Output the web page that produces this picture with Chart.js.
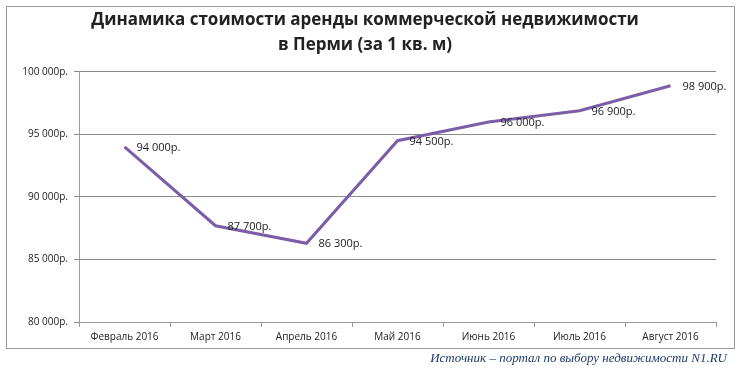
<!DOCTYPE html>
<html>
<head>
<meta charset="utf-8">
<script src="https://cdn.jsdelivr.net/npm/chart.js@4"></script>
<style>
  html, body { margin: 0; padding: 0; background: #fff; }
  #wrap { position: relative; width: 739px; height: 369px; }
  #frame { position: absolute; left: 6px; top: 6px; width: 727px; height: 341px; border: 1px solid #9a9a9a; }
  #chart { position: absolute; left: 0; top: 0; }
  #source { position: absolute; right: 12px; top: 350px; font: italic 13px "Liberation Serif", serif; color: #1f3a6a; }
</style>
</head>
<body>
<div id="wrap">
  <div id="frame"></div>
  <canvas id="chart" width="739" height="369"></canvas>
  <div id="source">Источник – портал по выбору недвижимости N1.RU</div>
</div>
<script>
const months = ['Февраль 2016', 'Март 2016', 'Апрель 2016', 'Май 2016', 'Июнь 2016', 'Июль 2016', 'Август 2016'];
const rent = [94000, 87700, 86300, 94500, 96000, 96900, 98900];
const titleLines = ['Динамика стоимости аренды коммерческой недвижимости', 'в Перми (за 1 кв. м)'];

function rub(v) {
  const s = String(v);
  return s.slice(0, s.length - 3) + ' ' + s.slice(-3) + 'р.';
}

// labels to the right of each point
const pointLabels = {
  id: 'pointLabels',
  afterDatasetsDraw(chart) {
    const ctx = chart.ctx;
    const meta = chart.getDatasetMeta(0);
    ctx.save();
    ctx.font = '11px "Open Sans"';
    ctx.fillStyle = '#222';
    ctx.textBaseline = 'middle';
    meta.data.forEach((pt, i) => {
      ctx.fillText(rub(rent[i]), pt.x + 12, pt.y + 1);
    });
    ctx.restore();
  }
};

const ctx = document.getElementById('chart');
new Chart(ctx, {
  type: 'line',
  data: {
    labels: months,
    datasets: [{
      data: rent,
      borderColor: '#7b5ea7',
      borderWidth: 3,
      pointRadius: 0,
      tension: 0,
      fill: false
    }]
  },
  options: {
    responsive: false,
    animation: false,
    layout: { padding: { left: 14, right: 23, top: 0, bottom: 22 } },
    plugins: {
      legend: { display: false },
      tooltip: { enabled: false },
      title: {
        display: true,
        text: titleLines,
        color: '#222',
        font: { family: 'Open Sans', size: 17, weight: 'bold', lineHeight: 1.47 },
        padding: { top: 8, bottom: 14 }
      }
    },
    scales: {
      x: {
        offset: true,
        grid: { display: true, offset: true, drawOnChartArea: false, drawTicks: true, tickLength: 5, color: '#9a9a9a' },
        border: { display: true, color: '#9a9a9a' },
        ticks: { color: '#222', font: { family: 'Open Sans', size: 10 }, maxRotation: 0, padding: 4 }
      },
      y: {
        min: 80000,
        max: 100000,
        afterFit(scale) { scale.width = 65; },
        grid: { color: '#8a8a8a', drawTicks: true, tickLength: 5 },
        border: { display: true, color: '#9a9a9a' },
        ticks: { stepSize: 5000, color: '#222', font: { family: 'Open Sans', size: 10 }, padding: 6, callback: v => rub(v) }
      }
    }
  },
  plugins: [pointLabels]
});
</script>
</body>
</html>
